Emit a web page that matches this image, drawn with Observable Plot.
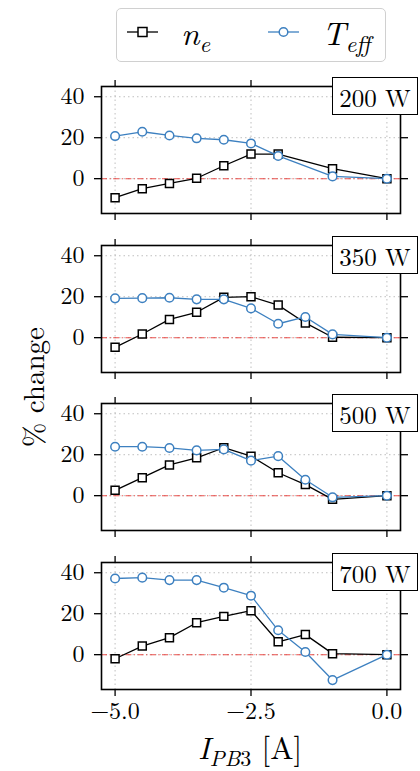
<!DOCTYPE html>
<html>
<head>
<meta charset="utf-8">
<script src="https://cdn.jsdelivr.net/npm/d3@7"></script>
<script src="https://cdn.jsdelivr.net/npm/@observablehq/plot@0.6"></script>
<style>
  html, body { margin: 0; padding: 0; background: #fff; }
  #wrap { position: relative; width: 420px; height: 771px; overflow: hidden; font-family: 'Latin Modern Roman', 'Liberation Serif', serif; color: #000; }
  .panel { position: absolute; left: 0; }
  .panel svg { overflow: visible; }
  .tag { position: absolute; left: 332px; width: 84px; height: 36px; background: #fff; border: 1.6px solid #000; font-family: 'Latin Modern Roman', serif; font-size: 25px; line-height: 37px; text-align: center; white-space: nowrap; }
  #legend { position: absolute; left: 116px; top: 8px; width: 268px; height: 52px; border: 1.6px solid #d0d0d0; border-radius: 5px; background: rgba(255,255,255,0.85); }
  .lg { position: absolute; top: 0; height: 52px; font-family: 'Latin Modern Roman', serif; font-size: 33px; line-height: 45px; font-style: italic; white-space: nowrap; }
  .lg sub { font-size: 23px; vertical-align: -7px; line-height: 0; }
  #ylabel { position: absolute; left: 31px; top: 387px; transform: translate(-50%, -50%) rotate(-90deg); font-family: 'Latin Modern Roman', serif; font-size: 29px; white-space: nowrap; }
  #xlabel { position: absolute; left: 250px; top: 746px; transform: translate(-50%, -50%); font-family: 'Latin Modern Roman', serif; font-size: 31px; white-space: nowrap; }
  #xlabel sub { font-size: 22px; vertical-align: -7px; line-height: 0; }
</style>
</head>
<body>
<div id="wrap"></div>
<script>
// ---- data ----
const currents = [-5, -4.5, -4, -3.5, -3, -2.5, -2, -1.5, -1, 0];
const powers = ["200 W", "350 W", "500 W", "700 W"];
const xTicks = [-5, -2.5, 0];
const yTicks = [0, 20, 40];

const ne200 = [-9.3, -4.9, -2.3, 0.2, 6.3, 12.0, 12.0, null, 4.9, 0];
const te200 = [20.8, 22.9, 21.1, 19.7, 19.0, 17.2, 11.1, null, 1.1, 0];
const ne350 = [-4.7, 1.8, 8.9, 12.4, 19.7, 20.0, 15.9, 7.2, 0.2, 0];
const te350 = [19.2, 19.3, 19.5, 18.7, 18.7, 14.3, 6.8, 10.1, 1.6, 0];
const ne500 = [2.6, 8.8, 15.0, 18.5, 23.4, 19.3, 11.2, 5.4, -1.8, 0];
const te500 = [23.9, 23.9, 23.3, 22.1, 22.6, 17.1, 19.3, 7.8, -0.8, 0];
const ne700 = [-2.0, 4.2, 8.3, 15.6, 18.7, 21.5, 6.3, 9.8, 0.5, 0];
const te700 = [37.2, 37.6, 36.4, 36.4, 32.7, 28.8, 11.9, 1.3, -12.4, 0];

const neSeries = [ne200, ne350, ne500, ne700];
const teSeries = [te200, te350, te500, te700];

const blue = "#3d80c0";
const frameTops = [86, 244.5, 403, 562];
const frameH = 127;
const font = "'Latin Modern Roman', 'Liberation Serif', serif";

const wrap = document.getElementById("wrap");

function rows(vals) {
  return currents.map((x, i) => ({x, y: vals[i]})).filter(d => d.y != null);
}

powers.forEach((pw, i) => {
  const last = i === powers.length - 1;
  const mt = 10, mb = last ? 85 : 21;
  const ne = rows(neSeries[i]);
  const te = rows(teSeries[i]);
  const chart = Plot.plot({
    width: 420,
    height: mt + frameH + mb,
    marginTop: mt,
    marginBottom: mb,
    marginLeft: 101,
    marginRight: 20,
    x: {domain: [-5.25, 0.25]},
    y: {domain: [-17, 45]},
    style: {fontFamily: font, fontSize: "23px", color: "#000", background: "transparent", overflow: "visible"},
    marks: [
      Plot.gridX(xTicks, {stroke: "#b8b8b8", strokeOpacity: 1, strokeWidth: 0.9, strokeDasharray: "1.5 3"}),
      Plot.gridY(yTicks, {stroke: "#b8b8b8", strokeOpacity: 1, strokeWidth: 0.9, strokeDasharray: "1.5 3"}),
      Plot.ruleY([0], {stroke: "#e8302c", strokeOpacity: 0.85, strokeWidth: 1.1, strokeDasharray: "6 2.5 1.2 2.5"}),
      Plot.axisY(yTicks, {anchor: "left", tickSize: 7, tickPadding: 10, strokeWidth: 1.3, label: null, tickFormat: d => String(d), fontSize: 24, fontFamily: font}),
      Plot.axisY(yTicks, {anchor: "right", tickSize: 7, strokeWidth: 1.3, label: null, tickFormat: () => ""}),
      Plot.axisX(xTicks, {anchor: "top", tickSize: 7, strokeWidth: 1.3, label: null, tickFormat: () => ""}),
      Plot.axisX(xTicks, {anchor: "bottom", tickSize: 7, tickPadding: 5, strokeWidth: 1.3, label: null,
        tickFormat: last ? d3.format(".1f") : () => "", fontSize: 24, fontFamily: font}),
      Plot.frame({stroke: "#000", strokeWidth: 1.6}),
      Plot.line(ne, {x: "x", y: "y", stroke: "#000", strokeWidth: 1.3}),
      Plot.dot(ne, {x: "x", y: "y", symbol: "square", r: 4.5, stroke: "#000", fill: "#fff", strokeWidth: 1.5}),
      Plot.line(te, {x: "x", y: "y", stroke: blue, strokeWidth: 1.3}),
      Plot.dot(te, {x: "x", y: "y", symbol: "circle", r: 4.3, stroke: blue, fill: "#fff", strokeWidth: 1.5})
    ]
  });
  const div = document.createElement("div");
  div.className = "panel";
  div.style.top = (frameTops[i] - mt) + "px";
  div.appendChild(chart);
  wrap.appendChild(div);

  const tag = document.createElement("div");
  tag.className = "tag";
  tag.style.top = (frameTops[i] - 9) + "px";
  tag.textContent = pw;
  wrap.appendChild(tag);
});

// legend
const legend = document.createElement("div");
legend.id = "legend";
legend.innerHTML = `
  <svg style="position:absolute;left:10px;top:14px" width="32" height="18">
    <line x1="0" y1="9" x2="31" y2="9" stroke="#000" stroke-width="1.3"/>
    <rect x="11" y="4.5" width="9" height="9" fill="#fff" stroke="#000" stroke-width="1.5"/>
  </svg>
  <div class="lg" style="left:64px">n<sub>e</sub></div>
  <svg style="position:absolute;left:151px;top:14px" width="32" height="18">
    <line x1="0" y1="9" x2="31" y2="9" stroke="${blue}" stroke-width="1.3"/>
    <circle cx="15.5" cy="9" r="4.3" fill="#fff" stroke="${blue}" stroke-width="1.5"/>
  </svg>
  <div class="lg" style="left:205px">T<sub>eff</sub></div>`;
wrap.appendChild(legend);

const yl = document.createElement("div");
yl.id = "ylabel";
yl.textContent = "% change";
wrap.appendChild(yl);

const xl = document.createElement("div");
xl.id = "xlabel";
xl.innerHTML = "<i>I</i><sub><i>PB</i>3</sub> [A]";
wrap.appendChild(xl);
</script>
</body>
</html>
